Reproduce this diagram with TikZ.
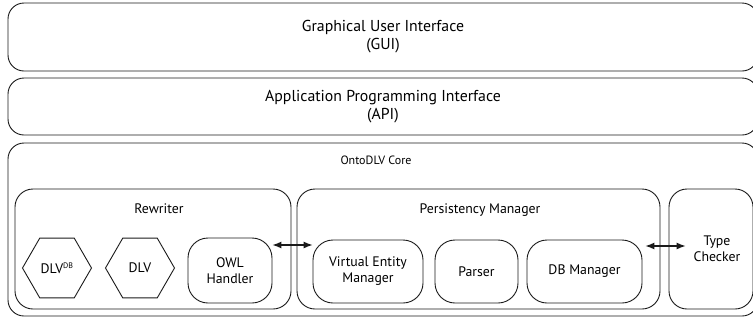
\documentclass[tikz,border=0pt]{standalone}
\usepackage{fontspec}
\setmainfont{PT Sans}
\usepackage{tikz}
\usetikzlibrary{arrows.meta,positioning,shapes.geometric,calc}
\definecolor{ink}{HTML}{1A1A1A}

\begin{document}
\begin{tikzpicture}[x=1pt,y=-1pt,>={Latex[length=9pt,width=7pt]},
    layer/.style={draw=ink,line width=0.9pt,rounded corners=16pt,align=center,
      minimum width=750pt,font=\fontsize{15.8}{18}\selectfont},
    group/.style={draw=ink,line width=0.9pt,rounded corners=18pt,minimum height=120pt},
    part/.style={draw=ink,line width=0.9pt,rounded corners=20pt,align=center,
      minimum height=63pt,font=\fontsize{13.8}{16}\selectfont},
    engine/.style={draw=ink,line width=0.9pt,regular polygon,regular polygon sides=6,
      minimum size=69pt,inner sep=0pt,font=\fontsize{13.8}{16}\selectfont},
    caption/.style={font=\fontsize{13.8}{16}\selectfont},
    link/.style={draw=ink,line width=1.1pt,<->}]
  \useasboundingbox (0,0) rectangle (753,322);
  % stacked layers
  \node[layer,minimum height=68pt] (gui) at (383,37) {Graphical User Interface\\(GUI)};
  \node[layer,minimum height=57pt] (api) at (383,106.5) {Application Programming Interface\\(API)};
  \node[layer,minimum height=173pt] (core) at (383,229.5) {};
  \node[caption,font=\fontsize{12}{14}\selectfont] (coreLabel) at (376,160) {OntoDLV Core};
  % core modules
  \node[group,minimum width=276pt] (rw) at (153,249) {};
  \node[caption] (rwLabel) at (159,209) {Rewriter};
  \node[group,minimum width=363pt] (pm) at (478.5,249) {};
  \node[caption] (pmLabel) at (480,210) {Persistency Manager};
  \node[group,minimum width=84pt,align=center,caption] (tc) at (711,249) {\hspace*{12pt}Type\\\hspace*{12pt}Checker};
  % rewriter parts
  \node[engine] (dlvdb) at (57,268) {DLV\textsuperscript{\fontsize{8}{8}\selectfont DB}};
  \node[engine] (dlv) at (140,268) {DLV};
  \node[part,minimum width=84pt,minimum height=65pt] (owl) at (230,270.5) {OWL\\Handler};
  % persistency parts
  \node[part,minimum width=110pt] (vem) at (368,271.5) {Virtual Entity\\Manager};
  \node[part,minimum width=83pt] (parser) at (476.5,271.5) {Parser};
  \node[part,minimum width=115pt] (dbm) at (584.5,271.5) {DB Manager};
  % links
  \draw[link] ([yshift=25.5pt]owl.east) -- ([yshift=25.5pt]owl.east -| vem.west);
  \draw[link] ([xshift=-15pt,yshift=3pt]pm.east) -- ([xshift=17pt,yshift=3pt]tc.west);
\end{tikzpicture}
\end{document}
